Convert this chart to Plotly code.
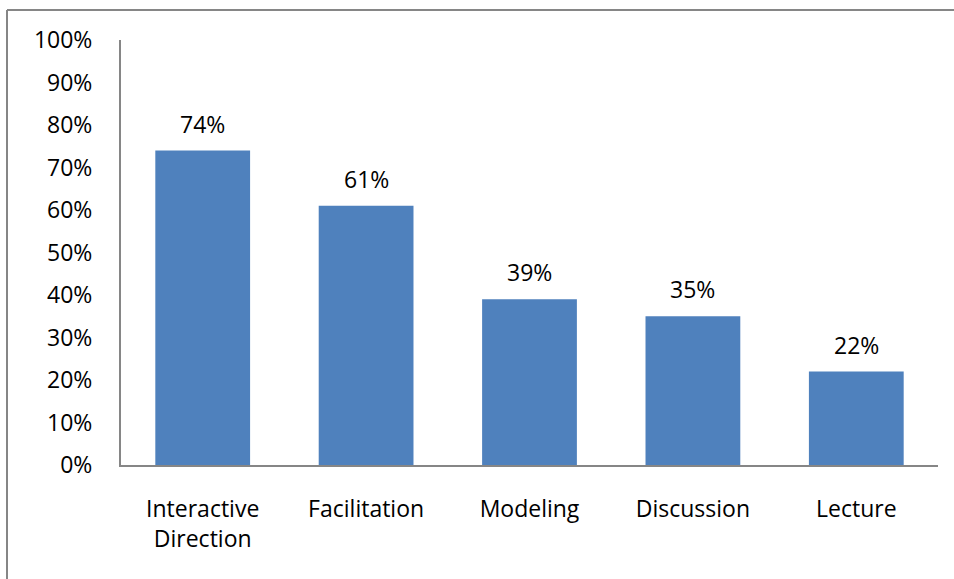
import plotly.graph_objects as go

categories = ["Interactive<br>Direction", "Facilitation", "Modeling", "Discussion", "Lecture"]
values = [74, 61, 39, 35, 22]
tick_vals = list(range(0, 101, 10))
tick_text = [f"{v}%" for v in tick_vals]

FONT = "Open Sans"
FONT_SIZE = 23
AXIS_GRAY = "#868686"

fig = go.Figure(
    go.Bar(
        x=categories,
        y=values,
        marker=dict(color="#4F81BD", line=dict(width=0)),
        hoverinfo="skip",
    )
)

# value labels above each bar
for cat, val in zip(categories, values):
    fig.add_annotation(
        x=cat, y=val, text=f"{val}%", showarrow=False,
        yanchor="bottom", yshift=9,
        font=dict(family=FONT, size=FONT_SIZE, color="black"),
    )

fig.update_layout(
    width=954, height=579,
    margin=dict(l=121, r=16, t=40, b=114),
    paper_bgcolor="white", plot_bgcolor="white",
    bargap=0.42,
    showlegend=False,
    font=dict(family=FONT, size=FONT_SIZE, color="black"),
)
fig.update_xaxes(
    showline=True, linecolor=AXIS_GRAY, linewidth=2,
    showgrid=False, ticks="", ticklabelstandoff=22,
    tickfont=dict(family=FONT, size=FONT_SIZE, color="black"),
)
fig.update_yaxes(
    range=[0, 100], tickvals=tick_vals, ticktext=tick_text,
    showline=True, linecolor=AXIS_GRAY, linewidth=2,
    showgrid=False, zeroline=False, ticks="", ticklabelstandoff=22,
    tickfont=dict(family=FONT, size=FONT_SIZE, color="black"),
)

# outer frame: top edge at y=10 px, left edge at x=7 px
plot_w = 954 - 121 - 16
plot_h = 579 - 40 - 114
top = (579 - 114 - 10) / plot_h
left = (7 - 121) / plot_w
fig.add_shape(type="line", xref="paper", yref="paper",
              x0=left, x1=(954 - 121) / plot_w, y0=top, y1=top,
              line=dict(color=AXIS_GRAY, width=2))
fig.add_shape(type="line", xref="paper", yref="paper",
              x0=left, x1=left, y0=top, y1=-114 / plot_h,
              line=dict(color=AXIS_GRAY, width=2))

fig.write_html("out.html")
